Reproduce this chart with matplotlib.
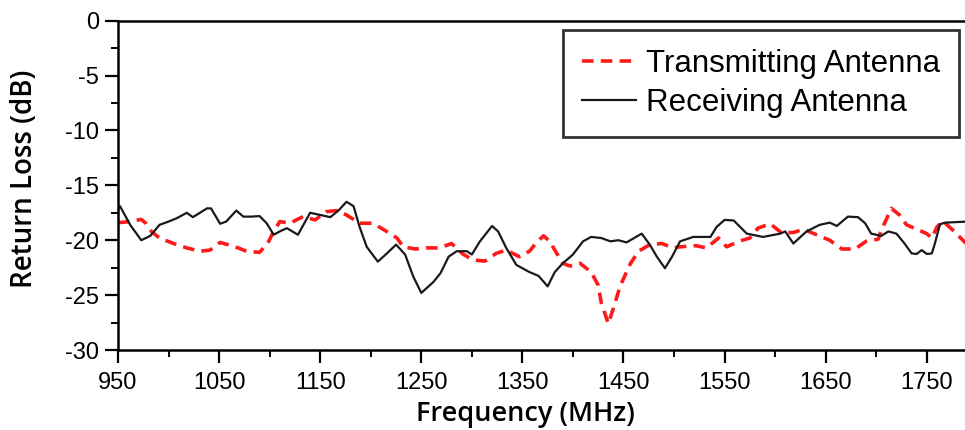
import matplotlib
matplotlib.use('Agg')
import matplotlib.pyplot as plt
from matplotlib.ticker import MultipleLocator

# measured return loss, transmitting antenna
freq_tx = [950, 962, 973, 978, 983, 991, 1005, 1018, 1031, 1041,
           1051, 1066, 1077, 1090, 1098, 1104, 1110, 1120, 1133, 1145,
           1156, 1166, 1176, 1189, 1202, 1214, 1226, 1232, 1244, 1255,
           1268, 1280, 1291, 1301, 1313, 1324, 1334, 1347, 1357, 1365,
           1371, 1377, 1384, 1390, 1397, 1407, 1418, 1425, 1428, 1435,
           1440, 1447, 1457, 1465, 1476, 1488, 1499, 1506, 1522, 1532,
           1544, 1552, 1564, 1575, 1583, 1595, 1606, 1618, 1628, 1641,
           1654, 1666, 1679, 1690, 1702, 1705, 1710, 1715, 1723, 1730,
           1740, 1750, 1755, 1760, 1766, 1776, 1790]
rl_tx = [-18.4, -18.3, -18.1, -18.5, -19.2, -19.8, -20.3, -20.7, -21.0, -20.9,
         -20.2, -20.6, -21.0, -21.1, -20.3, -19.2, -18.3, -18.45, -17.85, -18.15,
         -17.4, -17.3, -17.7, -18.45, -18.45, -19.1, -19.8, -20.6, -20.8, -20.7,
         -20.7, -20.3, -21.25, -21.8, -21.9, -21.2, -20.9, -21.5, -21.0, -20.1,
         -19.6, -20.1, -21.2, -22.1, -22.35, -22.1, -22.9, -24.1, -25.7, -27.6,
         -26.2, -24.1, -22.1, -21.0, -20.4, -20.3, -20.7, -20.6, -20.5, -20.7,
         -19.8, -20.6, -20.1, -19.8, -18.9, -18.5, -19.3, -19.3, -19.0, -19.5,
         -20.0, -20.8, -20.8, -20.1, -19.9, -19.1, -18.1, -17.1, -17.7, -18.6,
         -19.0, -19.4, -19.8, -18.8, -18.25, -19.1, -20.4]

# measured return loss, receiving antenna
freq_rx = [950, 952, 962, 973, 982, 991, 1000, 1008, 1018, 1024,
           1031, 1038, 1042, 1051, 1057, 1067, 1074, 1082, 1090, 1097,
           1104, 1110, 1117, 1128, 1140, 1150, 1160, 1168, 1176, 1183,
           1189, 1196, 1207, 1216, 1225, 1234, 1242, 1250, 1262, 1269,
           1277, 1285, 1295, 1300, 1308, 1320, 1326, 1334, 1344, 1357,
           1366, 1375, 1382, 1390, 1400, 1410, 1418, 1428, 1437, 1445,
           1453, 1468, 1476, 1483, 1491, 1498, 1506, 1519, 1536, 1542,
           1550, 1559, 1572, 1588, 1605, 1610, 1618, 1631, 1644, 1654,
           1661, 1672, 1682, 1689, 1695, 1705, 1712, 1720, 1728, 1735,
           1740, 1745, 1750, 1755, 1758, 1763, 1768, 1790]
rl_rx = [-17.2, -16.9, -18.6, -20.0, -19.6, -18.6, -18.3, -18.0, -17.5, -17.9,
         -17.5, -17.1, -17.1, -18.5, -18.3, -17.3, -17.85, -17.85, -17.8, -18.45,
         -19.5, -19.2, -18.9, -19.5, -17.5, -17.7, -17.9, -17.3, -16.5, -16.9,
         -18.8, -20.6, -21.95, -21.2, -20.4, -21.3, -23.3, -24.8, -23.8, -23.0,
         -21.5, -21.0, -21.0, -21.3, -20.1, -18.7, -19.2, -20.7, -22.25, -22.9,
         -23.25, -24.2, -22.9, -22.1, -21.3, -20.1, -19.7, -19.8, -20.1, -20.0,
         -20.2, -19.4, -20.4, -21.5, -22.55, -21.5, -20.1, -19.7, -19.7, -18.8,
         -18.15, -18.2, -19.4, -19.7, -19.4, -19.2, -20.3, -19.2, -18.6, -18.4,
         -18.7, -17.85, -17.9, -18.45, -19.4, -19.6, -19.2, -19.4, -20.3, -21.2,
         -21.25, -20.9, -21.25, -21.2, -20.3, -18.55, -18.4, -18.3]

xticks = [950, 1050, 1150, 1250, 1350, 1450, 1550, 1650, 1750]
yticks = [0, -5, -10, -15, -20, -25, -30]

plt.rcParams['font.family'] = ['Liberation Sans', 'DejaVu Sans']
plt.rcParams['axes.unicode_minus'] = False

fig = plt.figure(figsize=(9.65, 4.3), dpi=100)
ax = fig.add_axes([0.1223, 0.186, 0.880, 0.766])

ax.plot(freq_tx, rl_tx, color='#ff1a1a', lw=2.6, dashes=(3.2, 2.0),
        label='Transmitting Antenna')
ax.plot(freq_rx, rl_rx, color='#1a1a1a', lw=1.6, label='Receiving Antenna')

ax.set_xlim(950, 1790)
ax.set_ylim(-30, 0)
ax.set_xticks(xticks)
ax.set_yticks(yticks)
ax.xaxis.set_minor_locator(MultipleLocator(50))
ax.yaxis.set_minor_locator(MultipleLocator(2.5))
ax.tick_params(which='major', direction='out', length=9.5, width=1.6,
               labelsize=17, pad=4)
ax.tick_params(which='minor', direction='out', length=5, width=1.4)
ax.tick_params(axis='x', which='major', pad=6)
for s in ax.spines.values():
    s.set_linewidth(1.8)

fig.text(0.544, 0.022, 'Frequency (MHz)', ha='center', va='baseline',
         fontsize=19.5, fontweight='semibold', family='Open Sans')
fig.text(0.025, 0.585, 'Return Loss (dB)', ha='center', va='center',
         rotation=90, fontsize=20, fontweight='semibold', family='Open Sans')

leg = ax.legend(loc='upper left', bbox_to_anchor=(0.524, 0.972),
                borderaxespad=0, fontsize=22.5, handlelength=1.75,
                handletextpad=0.3, labelspacing=0.3, borderpad=0.6,
                fancybox=False, frameon=True)
leg.get_frame().set_edgecolor('black')
leg.get_frame().set_linewidth(2.0)

fig.savefig('out.png', dpi=100)
